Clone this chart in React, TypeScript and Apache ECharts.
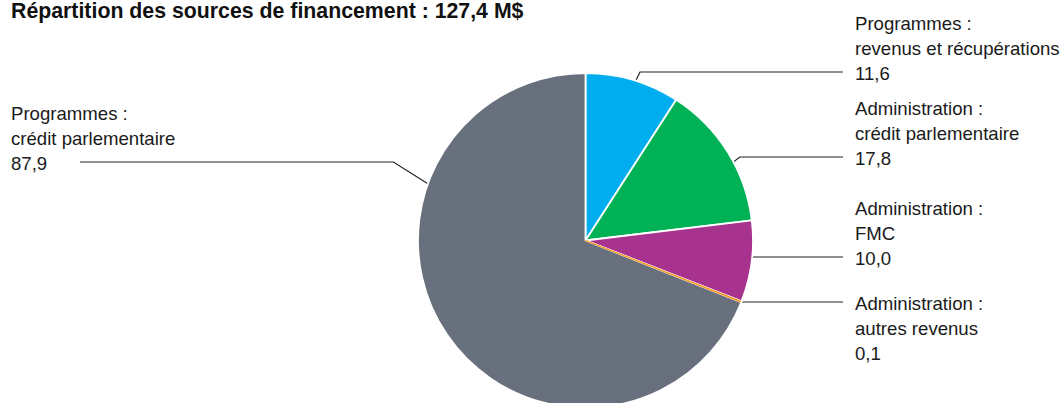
import React, { useEffect, useRef } from "react";
import * as echarts from "echarts";

const TITLE = "Répartition des sources de financement : 127,4 M$";
const CATEGORIES = [
  "Programmes :\nrevenus et récupérations",
  "Administration :\ncrédit parlementaire",
  "Administration :\nFMC",
  "Administration :\nautres revenus",
  "Programmes :\ncrédit parlementaire",
];
const VALUES = [11.6, 17.8, 10.0, 0.1, 87.9];
const COLORS = ["#00AEEF", "#00B155", "#A8338F", "#F7941D", "#67707C"];

// label layout (pixels) — presentation only
const CX = 585.5;
const CY = 240.5;
const R = 167.5;
const LINE_H = 25;
const LABEL_LAYOUT = [
  { angle: 17.5, side: "right", lineY: 72, elbowDX: 4, anchorLine: 2 },
  { angle: 62, side: "right", lineY: 157, elbowDX: 6, anchorLine: 2 },
  { angle: 95.8, side: "right", lineY: 257, elbowDX: 0, anchorLine: 2 },
  { angle: 111.6, side: "right", lineY: 302, elbowDX: 0, anchorLine: 0 },
  { angle: 289.8, side: "left", lineY: 162, elbowDX: -34, anchorLine: 2 },
];
const RIGHT_TEXT_X = 855;
const RIGHT_LINE_END = 843;
const LEFT_TEXT_X = 11;
const LEFT_LINE_END = 80;
const THIN_INDEX = 3;

function arcPoint(angleDeg: number, r: number) {
  const a = (angleDeg * Math.PI) / 180;
  return [CX + r * Math.sin(a), CY - r * Math.cos(a)];
}

export default function App() {
  const ref = useRef<HTMLDivElement>(null);
  useEffect(() => {
    if (!ref.current) return;
    const chart = echarts.init(ref.current, undefined, { renderer: "svg" });
    const fmt = (v: number) => v.toFixed(1).replace(".", ",");
    chart.setOption({
      animation: false,
      backgroundColor: "#ffffff",
      title: {
        text: TITLE,
        left: 11,
        top: 0,
        padding: 0,
        textStyle: {
          fontFamily: "Liberation Sans",
          fontWeight: "bold",
          fontSize: 21.3,
          lineHeight: 22,
          color: "#111111",
        },
      },
      series: [
        {
          type: "pie",
          center: [CX, CY],
          radius: R,
          startAngle: 90,
          clockwise: true,
          avoidLabelOverlap: false,
          itemStyle: { borderColor: "#ffffff", borderWidth: 1.8 },
          label: {
            show: true,
            fontFamily: "Liberation Sans",
            fontSize: 18.6,
            lineHeight: LINE_H,
            color: "#1a1a1a",
            formatter: (p: any) => `${p.name}\n${fmt(p.value)}`,
          },
          labelLine: {
            show: true,
            lineStyle: { color: "#222222", width: 1.2 },
          },
          labelLayout: (params: any) => {
            const L = LABEL_LAYOUT[params.dataIndex];
            const p0 = arcPoint(L.angle, R + 0.5);
            const p1 = [p0[0] + L.elbowDX, L.lineY];
            const endX = L.side === "right" ? RIGHT_LINE_END : LEFT_LINE_END;
            const p2 = [endX, L.lineY];
            const top = L.lineY - LINE_H * L.anchorLine - LINE_H / 2 + 1;
            return {
              x: L.side === "right" ? RIGHT_TEXT_X : LEFT_TEXT_X,
              y: top,
              align: "left",
              verticalAlign: "top",
              labelLinePoints: [p0, p1, p2],
            };
          },
          data: VALUES.map((v, i) => ({
            name: CATEGORIES[i],
            value: v,
            itemStyle: { color: COLORS[i] },
          })),
        },
        {
          // overlay that keeps the very thin slice visible as a fine stroke
          type: "pie",
          silent: true,
          center: [CX, CY],
          radius: R - 1,
          startAngle: 90,
          clockwise: true,
          label: { show: false },
          labelLine: { show: false },
          data: VALUES.map((v, i) => ({
            name: CATEGORIES[i],
            value: v,
            itemStyle:
              i === THIN_INDEX
                ? { color: COLORS[i], borderColor: COLORS[i], borderWidth: 1 }
                : { color: "transparent", borderWidth: 0 },
          })),
        },
      ],
    });
    return () => chart.dispose();
  }, []);
  return (
    <div
      ref={ref}
      style={{ position: "absolute", left: 0, top: 0, width: 1063, height: 403 }}
    />
  );
}
